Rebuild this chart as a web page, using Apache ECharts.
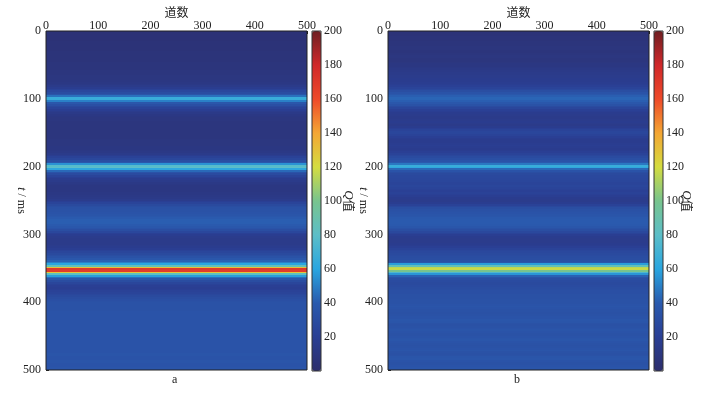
<!DOCTYPE html>
<html>
<head>
<meta charset="utf-8">
<script src="https://cdn.jsdelivr.net/npm/echarts@6/dist/echarts.min.js"></script>
<style>
  html, body { margin: 0; padding: 0; background: #fff; }
  #chart_container { width: 715px; height: 394px; }
</style>
</head>
<body>
<div id="chart_container"></div>
<script>
// Q profile along t (2.5 ms per cell)
const qA = [
  5, 5, 5, 5, 5, 5, 6, 6, 6, 6, 6, 6, 7, 7, 7, 7, 7, 7, 8, 8,
  8, 8, 8, 9, 9, 9, 10, 10, 10, 11, 12, 13, 15, 18, 22, 26, 30, 36, 46, 66,
  66, 50, 38, 32, 27, 23, 19, 16, 14, 12, 11, 10, 10, 9, 9, 9, 9, 9, 9, 9,
  9, 9, 9, 9, 10, 10, 10, 10, 11, 11, 12, 13, 15, 18, 22, 26, 31, 38, 55, 78,
  80, 62, 44, 35, 29, 24, 20, 17, 15, 13, 12, 11, 11, 11, 11, 12, 12, 13, 14, 16,
  20, 24, 28, 31, 33, 34, 34, 35, 36, 38, 40, 41, 41, 41, 40, 38, 35, 31, 26, 21,
  18, 16, 15, 15, 15, 15, 16, 17, 19, 22, 25, 28, 31, 34, 38, 42, 50, 60, 85, 130,
  170, 168, 128, 82, 58, 45, 36, 30, 25, 22, 20, 19, 20, 22, 24, 26, 28, 30, 32, 33,
  34, 34, 34, 34, 34, 35, 35, 35, 35, 35, 35, 35, 35, 35, 35, 35, 35, 35, 35, 35,
  35, 35, 35, 35, 35, 35, 35, 35, 35, 35, 36, 36, 35, 35, 36, 36, 35, 35, 36, 36
];
const qB = [
  6, 6, 6, 7, 7, 7, 8, 8, 8, 9, 9, 8, 8, 9, 10, 10, 9, 9, 10, 11,
  11, 12, 13, 14, 15, 15, 16, 16, 17, 17, 18, 19, 21, 24, 27, 31, 35, 38, 41, 43,
  43, 41, 38, 34, 29, 25, 21, 19, 17, 16, 15, 15, 16, 17, 16, 15, 17, 20, 23, 25,
  25, 23, 20, 18, 17, 17, 18, 19, 18, 17, 18, 20, 23, 26, 29, 32, 35, 40, 48, 66,
  62, 44, 35, 31, 28, 27, 27, 26, 25, 24, 24, 25, 24, 22, 21, 22, 21, 19, 17, 16,
  16, 18, 22, 27, 31, 33, 34, 35, 36, 37, 39, 40, 40, 40, 39, 37, 34, 31, 27, 23,
  19, 17, 16, 16, 16, 17, 18, 20, 23, 25, 27, 28, 29, 30, 31, 33, 38, 58, 85, 115,
  118, 100, 75, 56, 42, 35, 31, 29, 28, 28, 29, 30, 31, 32, 32, 33, 33, 33, 34, 34,
  34, 35, 36, 35, 34, 34, 33, 34, 35, 35, 37, 36, 34, 33, 34, 35, 36, 35, 34, 34,
  35, 36, 37, 35, 34, 33, 34, 35, 36, 34, 33, 34, 36, 37, 35, 34, 34, 35, 36, 36
];
const tStep = 2.5;          // ms per row
const traceRange = [0, 500]; // 道数
const qTicks = [20, 40, 60, 80, 100, 120, 140, 160, 180, 200];
const jet = ['#2d2e6c', '#2a3f94', '#2a5aae', '#2aa6e0', '#5cbec8', '#78c48e',
  '#d4dc40', '#f4a634', '#ee4a2a', '#d0282a', '#6e1f22'];

const font = 'Liberation Serif';
const txt = '#222';

// each row: [t start, Q]
function rows(arr) {
  return arr.map((v, i) => [i * tStep, v]);
}

// one band across all traces, from t to t + tStep, snapped to whole pixels
function renderRow(params, api) {
  const t = api.value(0);
  const p0 = api.coord([traceRange[0], t]);
  const p1 = api.coord([traceRange[1], t + tStep]);
  const y0 = Math.round(p0[1]);
  const y1 = Math.round(p1[1]);
  return {
    type: 'rect',
    shape: { x: Math.round(p0[0]), y: y0, width: Math.round(p1[0]) - Math.round(p0[0]), height: Math.max(1, y1 - y0) },
    style: { fill: api.visual('color'), lineWidth: 0 }
  };
}

function panel(idx, left, cbLeft, profile, tag, yGap, qGap) {
  const g = idx * 2;
  const grids = [
    { left: left, top: 31, width: 261, height: 339, show: true, z: 10, outerBoundsMode: 'none',
      borderColor: '#222', borderWidth: 1, backgroundColor: 'transparent' },
    { left: cbLeft, top: 31, width: 9, height: 340, show: true, z: 10, outerBoundsMode: 'none',
      borderColor: '#333', borderWidth: 1, backgroundColor: 'transparent' }
  ];
  const xAxes = [
    { gridIndex: g, type: 'value', position: 'top', min: 0, max: 500, interval: 100,
      name: '道数', nameLocation: 'middle', nameGap: 13, nameMoveOverlap: false,
      nameTextStyle: { fontFamily: 'Noto Sans CJK SC', fontSize: 12, color: txt },
      axisLine: { show: false }, splitLine: { show: false },
      axisTick: { inside: true, length: 3, lineStyle: { color: '#222' } },
      axisLabel: { margin: -1, fontFamily: font, fontSize: 12, color: txt } },
    { gridIndex: g + 1, type: 'value', show: false, min: 0, max: 1 }
  ];
  const yAxes = [
    { gridIndex: g, type: 'value', inverse: true, min: 0, max: 500, interval: 100,
      name: '{i|t} / ms', nameLocation: 'middle', nameGap: yGap, nameRotate: -90,
      nameMoveOverlap: false,
      nameTextStyle: { fontFamily: font, fontSize: 12, color: txt,
        rich: { i: { fontStyle: 'italic', fontFamily: font, fontSize: 12, color: txt } } },
      axisLine: { show: false }, splitLine: { show: false },
      axisTick: { inside: true, length: 3, lineStyle: { color: '#222' } },
      axisLabel: { margin: 5, fontFamily: font, fontSize: 12, color: txt } },
    { gridIndex: g + 1, type: 'value', position: 'right', min: 0, max: 200, interval: 20,
      name: '{i|Q}值', nameLocation: 'middle', nameGap: qGap, nameRotate: -90,
      nameMoveOverlap: false,
      nameTextStyle: { fontFamily: 'Noto Sans CJK SC', fontSize: 12, color: txt,
        rich: { i: { fontStyle: 'italic', fontFamily: font, fontSize: 13, color: txt } } },
      axisLine: { show: false }, splitLine: { show: false }, axisTick: { show: false },
      axisLabel: { margin: 3, fontFamily: font, fontSize: 12, color: txt,
        formatter: v => (qTicks.includes(v) ? String(v) : '') } }
  ];
  const series = {
    type: 'custom', xAxisIndex: g, yAxisIndex: g, clip: true,
    encode: { x: -1, y: 0 },
    renderItem: renderRow,
    data: rows(profile)
  };
  const vm = {
    type: 'continuous', seriesIndex: idx, dimension: 1, min: 0, max: 200,
    calculable: false, orient: 'vertical', left: cbLeft, top: 31,
    itemWidth: 9, itemHeight: 340, padding: 0,
    inRange: { color: jet }
  };
  const label = {
    type: 'text', left: left + 126, top: 374,
    style: { text: tag, font: '12px ' + font, fill: txt }
  };
  return { grids, xAxes, yAxes, series, vm, label };
}

const pa = panel(0, 46, 312, qA, 'a', 19, 21);
const pb = panel(1, 388, 654, qB, 'b', 19, 17);

const option = {
  animation: false,
  grid: [...pa.grids, ...pb.grids],
  xAxis: [...pa.xAxes, ...pb.xAxes],
  yAxis: [...pa.yAxes, ...pb.yAxes],
  visualMap: [pa.vm, pb.vm],
  series: [pa.series, pb.series],
  graphic: [pa.label, pb.label]
};

const myChart = echarts.init(document.getElementById('chart_container'));
myChart.setOption(option);
</script>
</body>
</html>
